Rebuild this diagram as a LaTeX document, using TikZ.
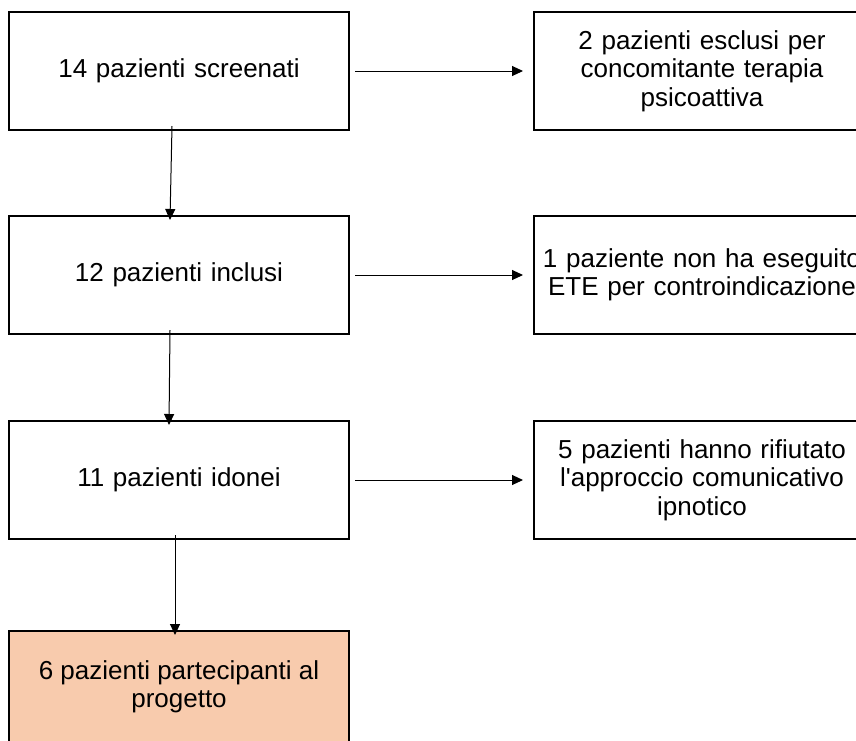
\documentclass[tikz,border=0pt]{standalone}
\usepackage{fontspec}
\setmainfont{Liberation Sans}[Ligatures=TeXOff]
\usetikzlibrary{arrows.meta,calc}
\definecolor{peach}{HTML}{F8CBAD}
\tikzset{
  box/.style={draw=black, line width=2pt, minimum width=340pt, minimum height=118pt, inner sep=0pt,
    align=center, text width=320pt, font=\fontsize{26}{28.5}\selectfont},
  rbox/.style={box, minimum width=336pt, text width=330pt},
  arr/.style={draw=black, line width=1pt, -{Triangle[length=11pt,width=10pt]}}
}
\begin{document}
\begin{tikzpicture}[x=1pt,y=-1pt]
\useasboundingbox (0,0) rectangle (856,740);
\node[box] (a) at (179,71) {14 pazienti screenati};
\node[rbox] (ar) at (702,71) {2 pazienti esclusi per\\concomitante terapia\\psicoattiva};
\node[box] (b) at (179,275) {12 pazienti inclusi};
\node[rbox] (br) at (702,275) {1 paziente non ha eseguito\\ETE per controindicazione};
\node[box] (c) at (179,480) {11 pazienti idonei};
\node[rbox] (cr) at (702,480) {5 pazienti hanno rifiutato\\l'approccio comunicativo\\ipnotico};
\node[box, fill=peach, minimum height=140pt] (d) at (179,701) {};
\node[font=\fontsize{26}{28.5}\selectfont, align=center] (dt) at (179,687) {6 pazienti partecipanti al\\progetto};
\draw[arr] ([xshift=5pt]a.east) -- ([xshift=-10pt]ar.west);
\draw[arr] ([xshift=5pt]b.east) -- ([xshift=-10pt]br.west);
\draw[arr] ([xshift=5pt]c.east) -- ([xshift=-10pt]cr.west);
\draw[arr] ([xshift=-7pt,yshift=5pt]a.south) -- ([xshift=-9pt,yshift=-5pt]b.north);
\draw[arr] ([xshift=-9pt,yshift=5pt]b.south) -- ([xshift=-10pt,yshift=-5pt]c.north);
\draw[arr] ([xshift=-4pt,yshift=5pt]c.south) -- ([xshift=-4pt,yshift=-5pt]d.north);
\end{tikzpicture}
\end{document}
